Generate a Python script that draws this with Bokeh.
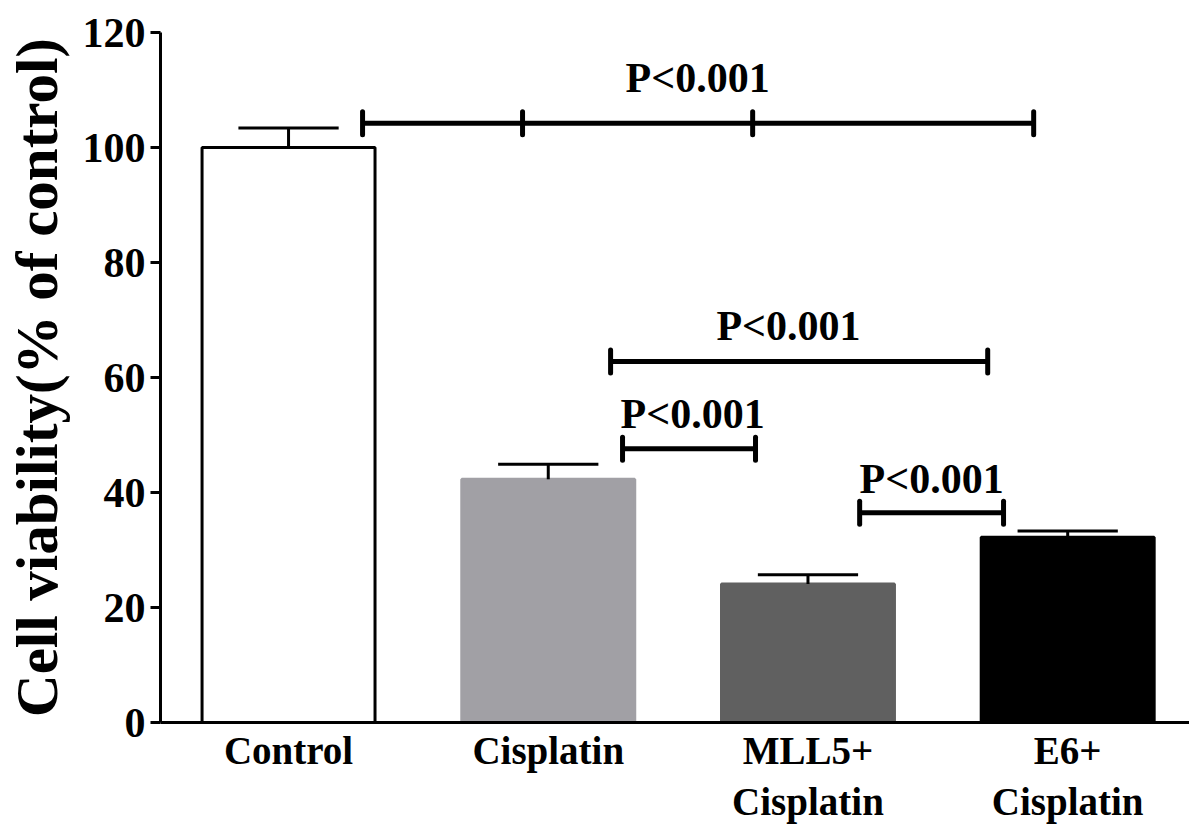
from bokeh.plotting import figure
from bokeh.models import Range1d, FixedTicker
from bokeh.core.properties import value
from bokeh.embed import file_html
from bokeh.resources import INLINE

# ---- data ----
categories = ["Control", "Cisplatin", "MLL5+\nCisplatin", "E6+\nCisplatin"]
means = [100.0, 42.3, 24.1, 32.2]
errors = [3.4, 2.6, 1.6, 1.1]
fills = ["white", "#a1a0a5", "#606060", "black"]
outlines = ["black", "#a1a0a5", "#606060", "black"]
y_ticks = [0, 20, 40, 60, 80, 100, 120]
y_title = "Cell viability(% of control)"

# significance brackets (group positions in category units, height in y units)
br_left = [0.285, 1.24, 1.286, 2.199]
br_right = [2.869, 2.692, 1.798, 2.753]
br_y = [104.2, 62.8, 47.6, 36.5]
br_inner = [0.901, 1.787]          # inner ticks of the top bracket
br_label = ["P<0.001", "P<0.001", "P<0.001", "P<0.001"]
lab_x = [1.575, 1.925, 1.556, 2.476]
lab_y = [109.4, 66.3, 51.0, 39.8]

FONT = "Liberation Serif"
xs = list(range(len(categories)))
bar_w = 0.666
cap_half = 0.193
tick_h = 2.0

p = figure(width=1189, height=829, output_backend="svg", toolbar_location=None,
           x_range=Range1d(-0.493, 3.469), y_range=Range1d(0, 120),
           min_border_left=160, min_border_right=0, min_border_top=32,
           min_border_bottom=107)
p.outline_line_color = None
p.grid.grid_line_color = None
p.background_fill_color = "white"

# bars
p.vbar(x=xs, top=means, bottom=0, width=bar_w, fill_color=fills,
       line_color=outlines, line_width=3)

# error bars (upper only)
tops = [m + e for m, e in zip(means, errors)]
p.segment(x0=xs, y0=means, x1=xs, y1=tops, line_color="black", line_width=3)
p.segment(x0=[x - cap_half for x in xs], y0=tops, x1=[x + cap_half for x in xs],
          y1=tops, line_color="black", line_width=3)

# brackets
p.segment(x0=br_left, y0=br_y, x1=br_right, y1=br_y, line_color="black",
          line_width=5)
ends_x = br_left + br_right + br_inner
ends_y = br_y + br_y + [br_y[0]] * len(br_inner)
p.segment(x0=ends_x, y0=[y - tick_h for y in ends_y], x1=ends_x,
          y1=[y + tick_h for y in ends_y], line_color="black", line_width=5,
          line_cap="round")
p.text(x=lab_x, y=lab_y, text=br_label, text_font=value(FONT),
       text_font_style="bold", text_font_size="42px", text_align="center",
       text_baseline="alphabetic", text_color="black", y_offset=-15)

# axes
xa = p.xaxis[0]
xa.ticker = FixedTicker(ticks=xs)
xa.major_label_overrides = {i: c for i, c in enumerate(categories)}
xa.major_tick_line_color = None
xa.minor_tick_line_color = None
xa.axis_line_width = 3
xa.axis_line_color = "black"
xa.major_label_text_font = FONT
xa.major_label_text_font_style = "bold"
xa.major_label_text_font_size = "39px"
xa.major_label_text_color = "black"
xa.major_label_standoff = 0
xa.major_label_text_line_height = 1.2

ya = p.yaxis[0]
ya.ticker = FixedTicker(ticks=y_ticks)
ya.minor_tick_line_color = None
ya.major_tick_in = 0
ya.major_tick_out = 10
ya.major_tick_line_width = 3
ya.axis_line_width = 3
ya.axis_line_color = "black"
ya.major_label_text_font = FONT
ya.major_label_text_font_style = "bold"
ya.major_label_text_font_size = "42px"
ya.major_label_text_color = "black"
ya.major_label_standoff = 5
ya.axis_label = y_title
ya.axis_label_text_font = FONT
ya.axis_label_text_font_style = "bold"
ya.axis_label_text_font_size = "59px"
ya.axis_label_text_color = "black"
ya.axis_label_standoff = 10

open("out.html", "w").write(file_html(p, INLINE))
